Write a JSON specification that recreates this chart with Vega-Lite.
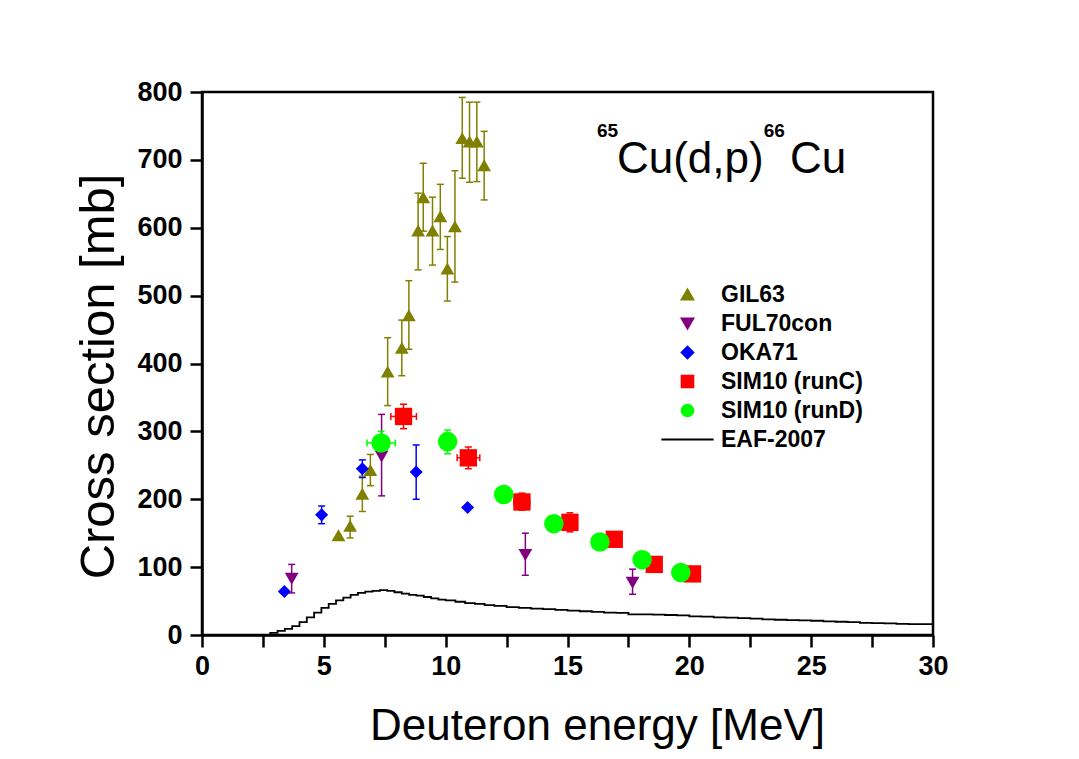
{
  "$schema": "https://vega.github.io/schema/vega-lite/v6.json",
  "width": 731,
  "height": 543,
  "autosize": {"type": "none"},
  "padding": {"left": 202, "top": 92, "right": 146, "bottom": 124},
  "background": "white",
  "config": {
    "font": "Liberation Sans",
    "view": {"stroke": "black", "strokeWidth": 2.5},
    "axis": {"grid": false, "domainColor": "black", "domainWidth": 2.5, "tickColor": "black", "tickWidth": 2.5, "tickSize": 12, "labelColor": "black", "titleColor": "black", "labelFlush": false}
  },
  "datasets": {
    "eaf": [
      {"e": 2.45, "v": 0}, {"e": 2.8, "v": 3}, {"e": 3.1, "v": 6}, {"e": 3.4, "v": 9}, {"e": 3.7, "v": 13},
      {"e": 4.0, "v": 19}, {"e": 4.3, "v": 26}, {"e": 4.6, "v": 33}, {"e": 4.9, "v": 40}, {"e": 5.2, "v": 46},
      {"e": 5.5, "v": 51}, {"e": 5.8, "v": 55}, {"e": 6.1, "v": 59}, {"e": 6.4, "v": 62}, {"e": 6.7, "v": 64},
      {"e": 7.0, "v": 65}, {"e": 7.3, "v": 66}, {"e": 7.6, "v": 65}, {"e": 7.9, "v": 63}, {"e": 8.2, "v": 61},
      {"e": 8.5, "v": 59}, {"e": 8.8, "v": 58}, {"e": 9.1, "v": 56}, {"e": 9.4, "v": 54}, {"e": 9.7, "v": 52},
      {"e": 10.0, "v": 51}, {"e": 10.4, "v": 49}, {"e": 10.8, "v": 47}, {"e": 11.2, "v": 46}, {"e": 11.6, "v": 44},
      {"e": 12.0, "v": 43}, {"e": 12.5, "v": 41}, {"e": 13.0, "v": 40}, {"e": 13.5, "v": 39}, {"e": 14.0, "v": 38},
      {"e": 14.5, "v": 37}, {"e": 15.0, "v": 36}, {"e": 15.5, "v": 35}, {"e": 16.0, "v": 34}, {"e": 16.5, "v": 33},
      {"e": 17.0, "v": 32.5}, {"e": 17.5, "v": 30.5}, {"e": 18.0, "v": 30.5}, {"e": 18.5, "v": 30}, {"e": 19.0, "v": 29.5},
      {"e": 19.5, "v": 29}, {"e": 20.0, "v": 27.5}, {"e": 20.5, "v": 27}, {"e": 21.0, "v": 26}, {"e": 21.5, "v": 25.5},
      {"e": 22.0, "v": 25}, {"e": 22.5, "v": 24}, {"e": 23.0, "v": 23}, {"e": 23.5, "v": 22.5}, {"e": 24.0, "v": 22},
      {"e": 24.5, "v": 21.5}, {"e": 25.0, "v": 21}, {"e": 25.5, "v": 20}, {"e": 26.0, "v": 19.5}, {"e": 26.5, "v": 19},
      {"e": 27.0, "v": 18}, {"e": 27.5, "v": 17.5}, {"e": 28.0, "v": 17}, {"e": 28.5, "v": 16.5}, {"e": 29.0, "v": 16},
      {"e": 29.5, "v": 16}, {"e": 30.0, "v": 16}
    ],
    "pts": [
      {"s": "GIL63", "e": 5.6, "v": 147},
      {"s": "GIL63", "e": 6.08, "v": 161, "lo": 143, "hi": 175},
      {"s": "GIL63", "e": 6.58, "v": 208, "lo": 182, "hi": 234},
      {"s": "GIL63", "e": 6.91, "v": 243, "lo": 220, "hi": 266},
      {"s": "GIL63", "e": 7.62, "v": 388, "lo": 338, "hi": 438},
      {"s": "GIL63", "e": 8.2, "v": 423, "lo": 382, "hi": 464},
      {"s": "GIL63", "e": 8.49, "v": 471, "lo": 421, "hi": 522},
      {"s": "GIL63", "e": 8.87, "v": 596, "lo": 538, "hi": 651},
      {"s": "GIL63", "e": 9.08, "v": 645, "lo": 595, "hi": 695},
      {"s": "GIL63", "e": 9.46, "v": 596, "lo": 545, "hi": 645},
      {"s": "GIL63", "e": 9.78, "v": 617, "lo": 568, "hi": 664},
      {"s": "GIL63", "e": 10.07, "v": 540, "lo": 492, "hi": 587},
      {"s": "GIL63", "e": 10.38, "v": 602, "lo": 520, "hi": 684},
      {"s": "GIL63", "e": 10.68, "v": 732, "lo": 673, "hi": 792},
      {"s": "GIL63", "e": 10.98, "v": 727, "lo": 667, "hi": 785},
      {"s": "GIL63", "e": 11.28, "v": 727, "lo": 668, "hi": 785},
      {"s": "GIL63", "e": 11.58, "v": 692, "lo": 641, "hi": 742},
      {"s": "FUL70con", "e": 3.68, "v": 83, "lo": 62, "hi": 104},
      {"s": "FUL70con", "e": 7.37, "v": 263, "lo": 205, "hi": 325},
      {"s": "FUL70con", "e": 13.27, "v": 118, "lo": 88, "hi": 150},
      {"s": "FUL70con", "e": 17.67, "v": 77, "lo": 60, "hi": 97},
      {"s": "OKA71", "e": 3.38, "v": 64},
      {"s": "OKA71", "e": 4.91, "v": 177, "lo": 164, "hi": 190},
      {"s": "OKA71", "e": 6.58, "v": 245, "lo": 232, "hi": 258},
      {"s": "OKA71", "e": 8.79, "v": 240, "lo": 200, "hi": 280},
      {"s": "OKA71", "e": 10.9, "v": 188},
      {"s": "SIM10 (runC)", "e": 8.27, "v": 322, "lo": 304, "hi": 340, "elo": 7.75, "ehi": 8.8},
      {"s": "SIM10 (runC)", "e": 10.93, "v": 261, "lo": 245, "hi": 277, "elo": 10.47, "ehi": 11.4},
      {"s": "SIM10 (runC)", "e": 13.13, "v": 196, "lo": 184, "hi": 209, "elo": 12.8, "ehi": 13.45},
      {"s": "SIM10 (runC)", "e": 15.1, "v": 166, "lo": 152, "hi": 180, "elo": 14.8, "ehi": 15.4},
      {"s": "SIM10 (runC)", "e": 16.92, "v": 141, "lo": 132, "hi": 150},
      {"s": "SIM10 (runC)", "e": 18.56, "v": 104, "lo": 96, "hi": 112},
      {"s": "SIM10 (runC)", "e": 20.13, "v": 90},
      {"s": "SIM10 (runD)", "e": 7.35, "v": 283, "lo": 266, "hi": 300, "elo": 6.77, "ehi": 7.93},
      {"s": "SIM10 (runD)", "e": 10.08, "v": 285, "lo": 267, "hi": 302, "elo": 9.78, "ehi": 10.38},
      {"s": "SIM10 (runD)", "e": 12.38, "v": 207},
      {"s": "SIM10 (runD)", "e": 14.44, "v": 164},
      {"s": "SIM10 (runD)", "e": 16.33, "v": 137},
      {"s": "SIM10 (runD)", "e": 18.06, "v": 111},
      {"s": "SIM10 (runD)", "e": 19.65, "v": 92}
    ],
    "ttl": [
      {"t": "65", "e": 16.21, "v": 733.7, "k": "sup"},
      {"t": "Cu(d,p)", "e": 17.03, "v": 680.7, "k": "main"},
      {"t": "66", "e": 23.05, "v": 733.7, "k": "sup"},
      {"t": "Cu", "e": 24.13, "v": 680.7, "k": "main"}
    ]
  },
  "layer": [
    {
      "data": {"name": "eaf"},
      "mark": {"type": "line", "interpolate": "step-after", "color": "black", "strokeWidth": 1.8},
      "encoding": {
        "x": {
          "field": "e", "type": "quantitative",
          "scale": {"domain": [0, 30], "nice": false},
          "axis": {
            "values": [0, 2.5, 5, 7.5, 10, 12.5, 15, 17.5, 20, 22.5, 25, 27.5, 30],
            "labelExpr": "datum.value % 5 === 0 ? datum.label : ''",
            "labelFont": "Liberation Sans", "labelFontSize": 27, "labelFontWeight": "bold", "labelPadding": 6,
            "title": "Deuteron energy [MeV]", "titleFont": "Liberation Sans", "titleFontSize": 44, "titleFontWeight": "normal",
            "titlePadding": 25, "titleX": 395,
            "encode": {"ticks": {"update": {"y2": {"signal": "datum.value % 5 === 0 ? 12 : 6"}}}}
          }
        },
        "y": {
          "field": "v", "type": "quantitative",
          "scale": {"domain": [0, 800], "nice": false},
          "axis": {
            "values": [0, 50, 100, 150, 200, 250, 300, 350, 400, 450, 500, 550, 600, 650, 700, 750, 800],
            "labelExpr": "datum.value % 100 === 0 ? datum.label : ''",
            "labelFont": "Liberation Sans", "labelFontSize": 27, "labelFontWeight": "bold", "labelPadding": 8,
            "title": "Cross section [mb]", "titleFont": "Liberation Sans", "titleFontSize": 49, "titleFontWeight": "normal",
            "titlePadding": 13, "titleY": 284,
            "encode": {"ticks": {"update": {"x2": {"signal": "datum.value % 100 === 0 ? -12 : -6"}}}}
          }
        }
      }
    },
    {
      "data": {"name": "pts"},
      "transform": [{"filter": "datum.lo != null"}],
      "mark": {"type": "rule", "strokeWidth": 1.5},
      "encoding": {
        "x": {"field": "e", "type": "quantitative", "scale": {"domain": [0, 30], "nice": false}},
        "y": {"field": "lo", "type": "quantitative", "scale": {"domain": [0, 800], "nice": false}},
        "y2": {"field": "hi"},
        "color": {"field": "s", "type": "nominal", "scale": {"domain": ["GIL63", "FUL70con", "OKA71", "SIM10 (runC)", "SIM10 (runD)", "EAF-2007"], "range": ["#808000", "#800080", "#0000ff", "#ff0000", "#00ff00", "#000000"]}}
      }
    },
    {
      "data": {"name": "pts"},
      "transform": [{"filter": "datum.lo != null"}],
      "mark": {"type": "tick", "orient": "horizontal", "size": 7, "thickness": 1.5, "opacity": 1},
      "encoding": {
        "x": {"field": "e", "type": "quantitative", "scale": {"domain": [0, 30], "nice": false}},
        "y": {"field": "lo", "type": "quantitative", "scale": {"domain": [0, 800], "nice": false}},
        "color": {"field": "s", "type": "nominal"}
      }
    },
    {
      "data": {"name": "pts"},
      "transform": [{"filter": "datum.hi != null"}],
      "mark": {"type": "tick", "orient": "horizontal", "size": 7, "thickness": 1.5, "opacity": 1},
      "encoding": {
        "x": {"field": "e", "type": "quantitative", "scale": {"domain": [0, 30], "nice": false}},
        "y": {"field": "hi", "type": "quantitative", "scale": {"domain": [0, 800], "nice": false}},
        "color": {"field": "s", "type": "nominal"}
      }
    },
    {
      "data": {"name": "pts"},
      "transform": [{"filter": "datum.elo != null"}],
      "mark": {"type": "rule", "strokeWidth": 1.5},
      "encoding": {
        "x": {"field": "elo", "type": "quantitative", "scale": {"domain": [0, 30], "nice": false}},
        "x2": {"field": "ehi"},
        "y": {"field": "v", "type": "quantitative", "scale": {"domain": [0, 800], "nice": false}},
        "color": {"field": "s", "type": "nominal"}
      }
    },
    {
      "data": {"name": "pts"},
      "transform": [{"filter": "datum.elo != null"}],
      "mark": {"type": "tick", "orient": "vertical", "size": 7, "thickness": 1.5, "opacity": 1},
      "encoding": {
        "x": {"field": "elo", "type": "quantitative", "scale": {"domain": [0, 30], "nice": false}},
        "y": {"field": "v", "type": "quantitative", "scale": {"domain": [0, 800], "nice": false}},
        "color": {"field": "s", "type": "nominal"}
      }
    },
    {
      "data": {"name": "pts"},
      "transform": [{"filter": "datum.elo != null"}],
      "mark": {"type": "tick", "orient": "vertical", "size": 7, "thickness": 1.5, "opacity": 1},
      "encoding": {
        "x": {"field": "ehi", "type": "quantitative", "scale": {"domain": [0, 30], "nice": false}},
        "y": {"field": "v", "type": "quantitative", "scale": {"domain": [0, 800], "nice": false}},
        "color": {"field": "s", "type": "nominal"}
      }
    },
    {
      "data": {"name": "pts"},
      "mark": {"type": "point", "filled": true, "opacity": 1, "strokeWidth": 0},
      "encoding": {
        "x": {"field": "e", "type": "quantitative", "scale": {"domain": [0, 30], "nice": false}},
        "y": {"field": "v", "type": "quantitative", "scale": {"domain": [0, 800], "nice": false}},
        "color": {
          "field": "s", "type": "nominal",
          "legend": {
            "title": null, "orient": "none", "legendX": 474, "legendY": 191, "direction": "vertical",
            "labelFont": "Liberation Sans", "labelFontSize": 23, "labelFontWeight": "bold", "labelColor": "black",
            "labelOffset": 22, "labelLimit": 400, "rowPadding": 5, "padding": 0,
            "symbolSize": 135, "symbolStrokeWidth": 2, "symbolOpacity": 1,
            "encode": {"symbols": {"update": {"stroke": {"signal": "datum.value === 'EAF-2007' ? '#000000' : 'transparent'"}}}}
          }
        },
        "shape": {
          "field": "s", "type": "nominal",
          "scale": {"domain": ["GIL63", "FUL70con", "OKA71", "SIM10 (runC)", "SIM10 (runD)", "EAF-2007"], "range": ["triangle-up", "triangle-down", "diamond", "square", "circle", "M-4.5,0H4.5"]}
        },
        "size": {
          "condition": [
            {"test": "datum.s === 'SIM10 (runD)'", "value": 380},
            {"test": "datum.s === 'SIM10 (runC)'", "value": 300},
            {"test": "datum.s === 'OKA71'", "value": 170}
          ],
          "value": 190
        }
      }
    },
    {
      "data": {"name": "ttl"},
      "transform": [{"filter": "datum.k === 'main'"}],
      "mark": {"type": "text", "align": "left", "baseline": "alphabetic", "font": "Liberation Sans", "fontSize": 44, "color": "black"},
      "encoding": {
        "x": {"field": "e", "type": "quantitative", "scale": {"domain": [0, 30], "nice": false}},
        "y": {"field": "v", "type": "quantitative", "scale": {"domain": [0, 800], "nice": false}},
        "text": {"field": "t"}
      }
    },
    {
      "data": {"name": "ttl"},
      "transform": [{"filter": "datum.k === 'sup'"}],
      "mark": {"type": "text", "align": "left", "baseline": "alphabetic", "font": "Liberation Sans", "fontSize": 19, "fontWeight": "bold", "color": "black"},
      "encoding": {
        "x": {"field": "e", "type": "quantitative", "scale": {"domain": [0, 30], "nice": false}},
        "y": {"field": "v", "type": "quantitative", "scale": {"domain": [0, 800], "nice": false}},
        "text": {"field": "t"}
      }
    }
  ]
}
